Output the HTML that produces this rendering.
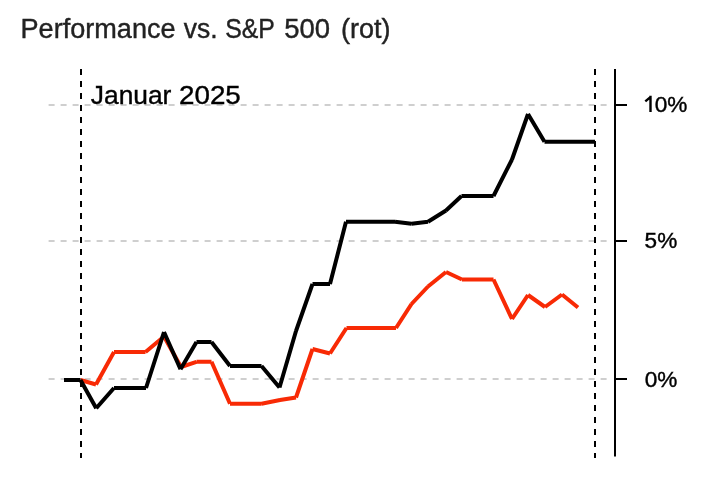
<!DOCTYPE html>
<html><head><meta charset="utf-8"><style>
html,body{margin:0;padding:0;background:#fff;width:710px;height:492px;overflow:hidden}
svg{display:block;will-change:transform}
text{font-family:"Liberation Sans",sans-serif}
</style></head><body>
<svg width="710" height="492" viewBox="0 0 710 492" xmlns="http://www.w3.org/2000/svg">
<g font-size="27" fill="#222" stroke="#222" stroke-width="0.4">
<text x="20.5" y="37.5" textLength="155.1" lengthAdjust="spacingAndGlyphs">Performance</text>
<text x="183.7" y="37.5" textLength="33.8" lengthAdjust="spacingAndGlyphs">vs.</text>
<text x="225.2" y="37.5" textLength="49.6" lengthAdjust="spacingAndGlyphs">S&amp;P</text>
<text x="284.3" y="37.5" textLength="45.8" lengthAdjust="spacingAndGlyphs">500</text>
<text x="340.9" y="37.5" textLength="49.6" lengthAdjust="spacingAndGlyphs">(rot)</text>
</g>
<g stroke="#cfcfcf" stroke-width="2" stroke-dasharray="6,6" fill="none">
<line x1="48.6" x2="610" y1="105" y2="105"/>
<line x1="48.6" x2="610" y1="241" y2="241"/>
<line x1="48.6" x2="610" y1="379" y2="379"/>
</g>
<g stroke="#000" stroke-width="2" stroke-dasharray="6,6" fill="none">
<line x1="81" x2="81" y1="69" y2="458"/>
<line x1="595" x2="595" y1="69" y2="458"/>
</g>
<g stroke="#000" stroke-width="2" fill="none">
<line x1="615" x2="615" y1="69" y2="456.5"/>
<line x1="616" x2="627" y1="105" y2="105"/>
<line x1="616" x2="627" y1="241" y2="241"/>
<line x1="616" x2="627" y1="379" y2="379"/>
</g>
<path d="M650.5,95.8V112.1M651,96.6L645.3,101.4" stroke="#000" stroke-width="2.4" fill="none"/>
<g font-size="22.6" fill="#000" stroke="#000" stroke-width="0.4">
<text x="654.7" y="112.3">0%</text>
<text x="644.6" y="248.3">5%</text>
<text x="644.7" y="386.6">0%</text>
</g>
<g font-size="26" fill="#000" stroke="#000" stroke-width="0.4">
<text x="90.8" y="103.5" textLength="80.6" lengthAdjust="spacingAndGlyphs">Januar</text>
<text x="179" y="103.5" textLength="61.8" lengthAdjust="spacingAndGlyphs">2025</text>
</g>
<path d="M80.5,380.0L96.0,384.5M96.0,384.5L114.0,352.0M114.0,352.0L145.5,352.0M145.5,352.0L164.0,336.5M164.0,336.5L181.0,367.0M181.0,367.0L196.5,361.8M196.5,361.8L211.5,361.8M211.5,361.8L230.0,403.7M230.0,403.7L261.5,403.7M261.5,403.7L280.0,400.0M280.0,400.0L296.0,397.5M296.0,397.5L312.5,349.0M312.5,349.0L330.0,353.5M330.0,353.5L346.5,328.0M346.5,328.0L396.0,328.0M396.0,328.0L411.5,304.0M411.5,304.0L428.0,286.5M428.0,286.5L446.0,272.0M446.0,272.0L462.0,279.5M462.0,279.5L493.5,279.5M493.5,279.5L512.0,319.0M512.0,319.0L528.0,295.0M528.0,295.0L545.0,307.0M545.0,307.0L562.0,294.5M562.0,294.5L578.0,307.5" stroke="#f82a05" stroke-width="4" fill="none" stroke-linejoin="bevel" stroke-linecap="butt"/>
<path d="M64.0,380.0L80.5,380.0M80.5,380.0L96.2,408.3M96.2,408.3L114.0,388.0M114.0,388.0L146.0,388.0M146.0,388.0L164.0,332.0M164.0,332.0L180.5,369.3M180.5,369.3L196.5,342.0M196.5,342.0L211.5,342.0M211.5,342.0L230.0,366.0M230.0,366.0L261.5,366.0M261.5,366.0L279.5,387.5M279.5,387.5L296.0,331.0M296.0,331.0L312.5,284.0M312.5,284.0L330.0,284.0M330.0,284.0L346.0,221.8M346.0,221.8L395.0,221.8M395.0,221.8L411.5,223.7M411.5,223.7L428.0,221.8M428.0,221.8L446.0,210.5M446.0,210.5L461.5,196.0M461.5,196.0L493.5,196.0M493.5,196.0L512.0,159.5M512.0,159.5L528.0,114.0M528.0,114.0L544.5,141.7M544.5,141.7L595.0,141.7" stroke="#000" stroke-width="4" fill="none" stroke-linejoin="bevel" stroke-linecap="butt"/>
</svg>
</body></html>
